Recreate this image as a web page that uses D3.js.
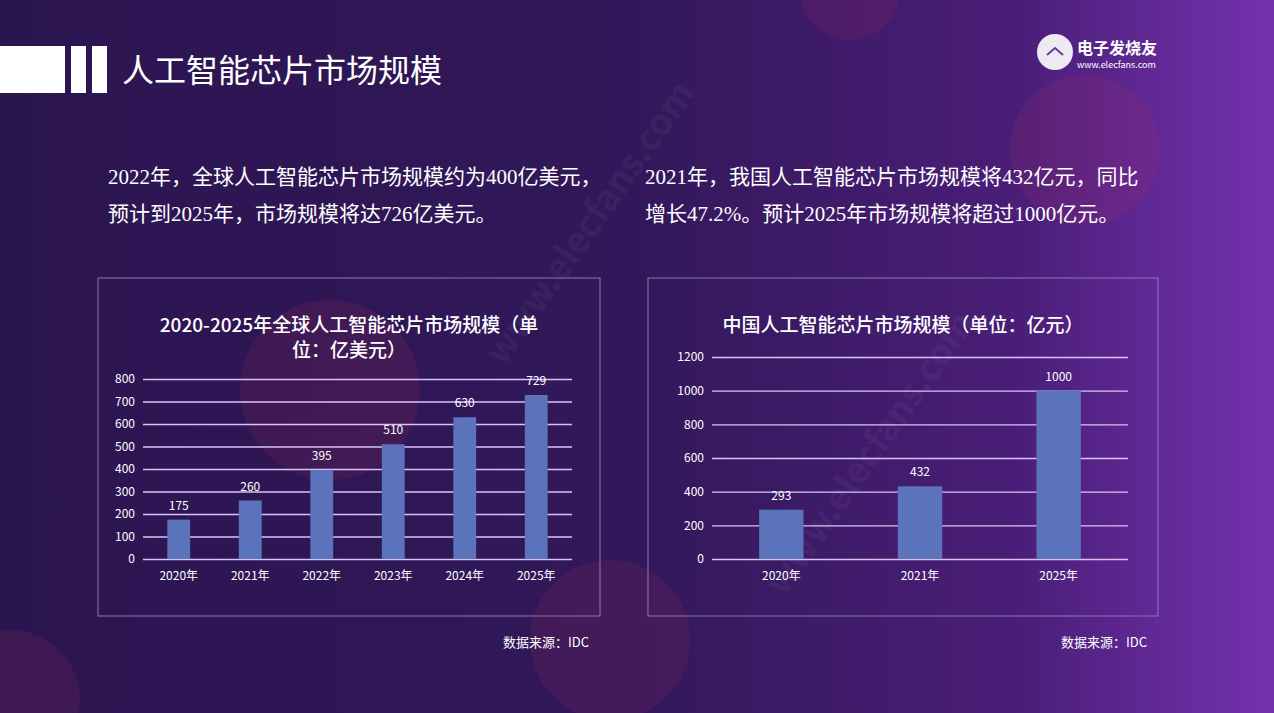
<!DOCTYPE html>
<html>
<head>
<meta charset="utf-8">
<script src="https://cdn.jsdelivr.net/npm/d3@7"></script>
<style>
  body { margin: 0; overflow: hidden; background: #2b1550; }
  svg { display: block; }
</style>
</head>
<body>
<div id="slide"></div>
<script>
// data
const globalYears = ["2020年", "2021年", "2022年", "2023年", "2024年", "2025年"];
const globalValues = [175, 260, 395, 510, 630, 729];
const globalTicks = [0, 100, 200, 300, 400, 500, 600, 700, 800];

const chinaYears = ["2020年", "2021年", "2025年"];
const chinaValues = [293, 432, 1000];
const chinaTicks = [0, 200, 400, 600, 800, 1000, 1200];

const W = 1274, H = 713;
const sans = "'Noto Sans CJK SC', 'Liberation Sans', Arial, sans-serif";
const serif = "'Liberation Serif', 'Noto Sans CJK SC', serif";

let svg = d3.select("#slide").append("svg").attr("width", W).attr("height", H);

// background gradient
let defs = svg.append("defs");
let grad = defs.append("linearGradient").attr("id", "bg").attr("x1", 0).attr("x2", 1).attr("y1", 0).attr("y2", 0);
grad.append("stop").attr("offset", "0%").attr("stop-color", "#2b1550");
grad.append("stop").attr("offset", "50%").attr("stop-color", "#32185a");
grad.append("stop").attr("offset", "80%").attr("stop-color", "#4a1e78");
grad.append("stop").attr("offset", "100%").attr("stop-color", "#7432ae");
svg.append("rect").attr("width", W).attr("height", H).attr("fill", "url(#bg)");

// faint watermark blobs
let blobs = [[330, 390, 90], [610, 640, 80], [1085, 150, 75], [850, -10, 50], [10, 700, 70]];
svg.selectAll(".blob").data(blobs).enter().append("circle")
  .attr("cx", d => d[0]).attr("cy", d => d[1]).attr("r", d => d[2])
  .attr("fill", "#c23058").attr("opacity", 0.12);
let marks = [[600, 230], [880, 460]];
svg.selectAll(".wm").data(marks).enter().append("text")
  .attr("transform", d => `translate(${d[0]},${d[1]}) rotate(-55)`)
  .attr("text-anchor", "middle")
  .attr("font-family", sans).attr("font-size", 36).attr("font-weight", "bold")
  .attr("fill", "#ffffff").attr("opacity", 0.04)
  .text("www.elecfans.com");

// header
svg.append("rect").attr("x", 0).attr("y", 46).attr("width", 65).attr("height", 47).attr("fill", "#ffffff");
svg.append("rect").attr("x", 71).attr("y", 46).attr("width", 15).attr("height", 47).attr("fill", "#ffffff");
svg.append("rect").attr("x", 92).attr("y", 46).attr("width", 15).attr("height", 47).attr("fill", "#ffffff");
svg.append("text").attr("x", 122).attr("y", 82)
  .attr("font-family", sans).attr("font-size", 32).attr("fill", "#ffffff")
  .text("人工智能芯片市场规模");

// logo
let logo = svg.append("g").attr("transform", "translate(1055,52)");
logo.append("circle").attr("r", 18).attr("fill", "#ffffff").attr("opacity", 0.9);
logo.append("path").attr("d", "M-8,3 L0,-4 L8,3").attr("fill", "none").attr("stroke", "#6a3aa0").attr("stroke-width", 2);
logo.append("text").attr("x", 22).attr("y", 2).attr("font-family", sans).attr("font-size", 16)
  .attr("font-weight", "bold").attr("fill", "#ffffff").text("电子发烧友");
logo.append("text").attr("x", 22).attr("y", 16).attr("font-family", sans).attr("font-size", 9)
  .attr("fill", "#ffffff").text("www.elecfans.com");

// paragraphs
let paraL = ["2022年，全球人工智能芯片市场规模约为400亿美元，", "预计到2025年，市场规模将达726亿美元。"];
let paraR = ["2021年，我国人工智能芯片市场规模将432亿元，同比", "增长47.2%。预计2025年市场规模将超过1000亿元。"];
[[108, paraL], [645, paraR]].forEach(p => {
  svg.append("g").selectAll("text").data(p[1]).enter().append("text")
    .attr("x", p[0]).attr("y", (d, i) => 184 + i * 37)
    .attr("font-family", serif).attr("font-size", 21).attr("fill", "#ffffff")
    .text(d => d);
});

function barChart(cfg) {
  let g = svg.append("g");
  g.append("rect").attr("x", cfg.box[0]).attr("y", cfg.box[1]).attr("width", cfg.box[2]).attr("height", cfg.box[3])
    .attr("fill", "none").attr("stroke", "#8a78b0").attr("stroke-width", 1);

  g.selectAll(".title").data(cfg.title).enter().append("text")
    .attr("x", cfg.box[0] + cfg.box[2] / 2).attr("y", (d, i) => 332 + i * 25)
    .attr("text-anchor", "middle").attr("font-family", sans).attr("font-size", 19)
    .attr("font-weight", 500).attr("fill", "#ffffff").text(d => d);

  let x = d3.scaleBand().domain(cfg.cats).range([cfg.x0, cfg.x1]).paddingInner(0.68).paddingOuter(0.34);
  let y = d3.scaleLinear().domain([0, d3.max(cfg.ticks)]).range([559, cfg.yTop]);

  let yAxis = g.append("g").attr("transform", `translate(${cfg.x0},0)`)
    .call(d3.axisLeft(y).tickValues(cfg.ticks).tickFormat(d3.format("d"))
      .tickSize(-(cfg.x1 - cfg.x0)).tickPadding(8));
  yAxis.select(".domain").remove();
  yAxis.selectAll("line").attr("stroke", "#d8c4f4").attr("stroke-width", 1.3);
  yAxis.selectAll("text").attr("font-family", sans).attr("font-size", 12).attr("fill", "#ffffff");

  g.selectAll(".bar").data(cfg.values).enter().append("rect")
    .attr("x", (d, i) => x(cfg.cats[i])).attr("width", x.bandwidth())
    .attr("y", d => y(d)).attr("height", d => y(0) - y(d))
    .attr("fill", "#5a73ba");

  g.selectAll(".lbl").data(cfg.values).enter().append("text")
    .attr("x", (d, i) => x(cfg.cats[i]) + x.bandwidth() / 2).attr("y", d => y(d) - 10)
    .attr("text-anchor", "middle").attr("font-family", sans).attr("font-size", 12)
    .attr("fill", "#ffffff").text(d => d);

  let xAxis = g.append("g").attr("transform", "translate(0,559)")
    .call(d3.axisBottom(x).tickSize(0).tickPadding(12));
  xAxis.select(".domain").remove();
  xAxis.selectAll("text").attr("font-family", sans).attr("font-size", 12).attr("fill", "#ffffff");

  g.append("text").attr("x", cfg.box[0] + cfg.box[2] - 11).attr("y", 647)
    .attr("text-anchor", "end").attr("font-family", sans).attr("font-size", 13)
    .attr("fill", "#ffffff").text("数据来源：IDC");
}

barChart({
  box: [98, 278, 502, 338],
  title: ["2020-2025年全球人工智能芯片市场规模（单", "位：亿美元）"],
  cats: globalYears, values: globalValues, ticks: globalTicks,
  x0: 143, x1: 572, yTop: 379
});

barChart({
  box: [648, 278, 510, 338],
  title: ["中国人工智能芯片市场规模（单位：亿元）"],
  cats: chinaYears, values: chinaValues, ticks: chinaTicks,
  x0: 712, x1: 1128, yTop: 357
});
</script>
</body>
</html>
